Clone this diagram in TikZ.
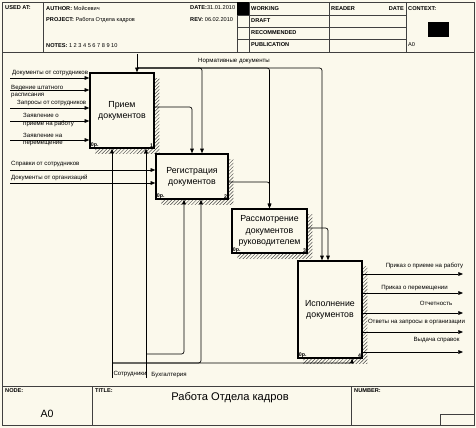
\documentclass[tikz,border=0pt]{standalone}
\usepackage{fontspec}
\setmainfont{Liberation Sans}
\usetikzlibrary{positioning,calc,arrows.meta,patterns}
\definecolor{paper}{RGB}{251,249,236}
\newcommand{\upx}{0.03cm}

\begin{document}
\begin{tikzpicture}[x=\upx, y=-\upx,
  blk/.style={draw, line width=1.3pt, fill=paper, inner sep=0pt, align=center,
    font=\fontsize{7.5}{9.5}\selectfont,
    preaction={pattern=north east lines, pattern color=black!70,
      transform canvas={xshift=4.5pt, yshift=-4.5pt}},
    path picture={\fill (path picture bounding box.north west)
      -- ([xshift=3.5pt]path picture bounding box.north west)
      -- ([yshift=-3.5pt]path picture bounding box.north west) -- cycle;}},
  cost/.style={anchor=south west, inner sep=1.2pt, font=\fontsize{4.5}{5}\selectfont\bfseries},
  num/.style={anchor=south east, inner sep=1.2pt, font=\fontsize{4.5}{5}\selectfont\bfseries},
  lbl/.style={font=\fontsize{5.2}{6.5}\selectfont, inner sep=0pt, align=left},
  hdr/.style={font=\fontsize{4.8}{6}\selectfont\bfseries, inner sep=0pt, anchor=west},
  arr/.style={line width=0.6pt, -{Triangle[length=4pt, width=3.2pt]}},
  ln/.style={line width=0.7pt, black!75}]

  % page and frame
  \fill[paper] (0,0) rectangle (476,428);
  \draw[ln] (2,2) rectangle (474,425);
  \draw[ln] (2,52) -- (474,52);
  \draw[ln] (43,2) -- (43,52);
  \draw[ln] (237,2) -- (237,52);
  \draw[ln] (249,2) -- (249,52);
  \draw[ln] (329,2) -- (329,52);
  \draw[ln] (406,2) -- (406,52);
  \draw[ln] (237,15) -- (406,15);
  \draw[ln] (237,27) -- (406,27);
  \draw[ln] (237,39) -- (406,39);
  \fill (237,2) rectangle (249,15);
  \fill (428,22) rectangle (449,37);

  \node[hdr] (usedat) at (5,8) {USED AT:};
  \node[hdr] (author) at (46,8) {AUTHOR: \mdseries Мойсевич};
  \node[hdr] (project) at (46,20) {PROJECT: \mdseries Работа Отдела кадров};
  \node[hdr] (notes) at (46,46) {NOTES: \mdseries 1 2 3 4 5 6 7 8 9 10};
  \node[hdr] (date) at (190,8) {DATE:\mdseries 31.01.2010};
  \node[hdr] (rev) at (190,20) {REV: \mdseries 06.02.2010};
  \node[hdr] (working) at (251,9) {WORKING};
  \node[hdr] (draft) at (251,21) {DRAFT};
  \node[hdr] (recom) at (251,33) {RECOMMENDED};
  \node[hdr] (publ) at (251,45) {PUBLICATION};
  \node[hdr] (reader) at (331,9) {READER};
  \node[hdr, anchor=east] (rdate) at (404,9) {DATE};
  \node[hdr] (context) at (408,9) {CONTEXT:};
  \node[hdr, font=\fontsize{4.8}{6}\selectfont] (ctxnode) at (408,45) {A0};

  % footer
  \draw[ln] (2,386) -- (474,386);
  \draw[ln] (92,386) -- (92,425);
  \draw[ln] (351,386) -- (351,425);
  \draw[ln] (440,414) rectangle (474,425);
  \node[hdr] (nodelbl) at (5,391) {NODE:};
  \node[hdr] (titlelbl) at (95,391) {TITLE:};
  \node[hdr] (numlbl) at (354,391) {NUMBER:};
  \node[font=\fontsize{9}{10}\selectfont, inner sep=0pt] (nodeval) at (47,414) {A0};
  \node[font=\fontsize{9.5}{11}\selectfont, inner sep=0pt] (title) at (230,398) {Работа Отдела кадров};

  % blocks
  \node[blk, minimum width=64*\upx, minimum height=75*\upx,
    label={[cost]south west:0р.}, label={[num]south east:1}] (b1) at (122,110.5) {Прием\\документов};
  \node[blk, minimum width=72*\upx, minimum height=45*\upx,
    label={[cost]south west:0р.}, label={[num]south east:2}] (b2) at (192,176.5) {Регистрация\\документов};
  \node[blk, minimum width=75*\upx, minimum height=44*\upx,
    label={[cost]south west:0р.}, label={[num]south east:3}] (b3) at (269.5,231) {Рассмотрение\\документов\\руководителем};
  \node[blk, minimum width=64*\upx, minimum height=97*\upx,
    label={[cost]south west:0р.}, label={[num]south east:4}] (b4) at (330,309.5) {Исполнение\\документов};

  % inputs
  \coordinate (i11) at (10,78);
  \coordinate (i12) at (10,90);
  \coordinate (i13) at (10,108);
  \coordinate (i14) at (10,121);
  \coordinate (i15) at (10,140);
  \coordinate (i21) at (10,170);
  \coordinate (i22) at (10,183);
  \draw[arr] (i11) -- (i11 -| b1.west);
  \draw[arr] (i12) -- (i12 -| b1.west);
  \draw[arr] (i13) -- (i13 -| b1.west);
  \draw[arr] (i14) -- (i14 -| b1.west);
  \draw[arr] (i15) -- (i15 -| b1.west);
  \draw[arr] (i21) -- (i21 -| b2.west);
  \draw[arr] (i22) -- (i22 -| b2.west);
  \node[lbl, anchor=west] (t11) at (12,73) {Документы от сотрудников};
  \node[lbl, anchor=west] (t12) at (11,91.5) {Ведение штатного\\расписания};
  \node[lbl, anchor=west] (t13) at (17,103) {Запросы от сотрудников};
  \node[lbl, anchor=west] (t14) at (23,120) {Заявление о\\приеме на работу};
  \node[lbl, anchor=west] (t15) at (23,139.5) {Заявление на\\перемещение};
  \node[lbl, anchor=west] (t21) at (11,164) {Справки от сотрудников};
  \node[lbl, anchor=west] (t22) at (11,178) {Документы от организаций};

  % controls
  \coordinate (c1) at (137,54);
  \coordinate (cb) at (137,68);
  \draw[arr] (c1) -- (c1 |- b1.north);
  \draw[arr, rounded corners=2pt] (cb) -| ($(b2.north)+(10,0)$);
  \draw[arr, rounded corners=2pt] (cb) -| (b3.north);
  \draw[arr, rounded corners=2pt] (cb) -| ($(b4.north)+(-8,0)$);
  \node[lbl] (tnd) at (234,61) {Нормативные документы};

  % block to block
  \draw[arr, rounded corners=2pt] ($(b1.east)+(0,-3.5)$) -| (b2.north);
  \draw[arr, rounded corners=2pt] ($(b2.east)+(0,5.5)$) -| (b3.north);
  \draw[arr, rounded corners=2pt] ($(b3.east)+(0,-3)$) -| ($(b4.north)+(-2,0)$);

  % outputs
  \coordinate (o1) at (463,274);
  \coordinate (o2) at (463,293);
  \coordinate (o3) at (463,313);
  \coordinate (o4) at (463,332);
  \coordinate (o5) at (463,352);
  \draw[arr] (o1 -| b4.east) -- (o1);
  \draw[arr] (o2 -| b4.east) -- (o2);
  \draw[arr] (o3 -| b4.east) -- (o3);
  \draw[arr] (o4 -| b4.east) -- (o4);
  \draw[arr] (o5 -| b4.east) -- (o5);
  \node[lbl] (to1) at (424.5,266) {Приказ о приеме на работу};
  \node[lbl] (to2) at (414.5,288) {Приказ о перемещении};
  \node[lbl] (to3) at (436,303) {Отчетность};
  \node[lbl] (to4) at (416.5,322) {Ответы на запросы в организации};
  \node[lbl] (to5) at (436.5,340) {Выдача справок};

  % mechanisms
  \coordinate (m1) at (112,378);
  \coordinate (m2) at (146,378);
  \coordinate (mb1) at (112,363);
  \coordinate (mb2) at (146,354);
  \draw[arr] (m1) -- (m1 |- b1.south);
  \draw[arr] (m2) -- (m2 |- b1.south);
  \draw[arr, rounded corners=2pt] (mb1) -| ($(b2.south)+(9,0)$);
  \draw[arr, rounded corners=2pt] (mb1) -| ($(b4.south)+(22,0)$);
  \draw[arr, rounded corners=2pt] (mb2) -| ($(b2.south)+(-8,0)$);
  \node[lbl] (tm1) at (130,374) {Сотрудники};
  \node[lbl] (tm2) at (169,375) {Бухгалтерия};
\end{tikzpicture}
\end{document}
